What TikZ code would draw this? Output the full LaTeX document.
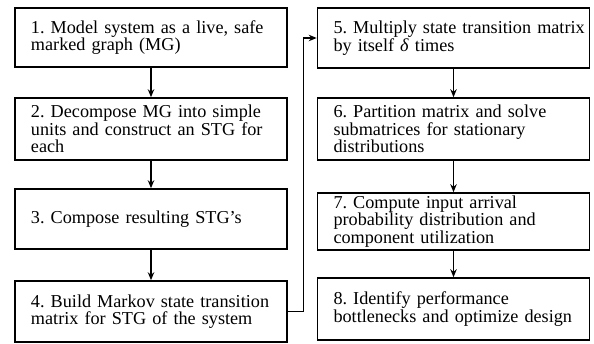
\documentclass[tikz,border=0pt]{standalone}
\usepackage{fontspec}
\setmainfont{Liberation Serif}
\usetikzlibrary{arrows.meta}
\frenchspacing

\begin{document}
\begin{tikzpicture}[
  x=1pt, y=-1pt,
  stage/.style={rectangle, draw, line width=1.6pt, text width=272pt,
                inner xsep=0pt, inner ysep=2pt, align=left,
                font=\fontsize{18.2}{17.5}\selectfont,
                execute at begin node={\leftskip=16pt\hyphenpenalty=10000}},
  arr/.style={-{Stealth[length=8pt, width=6.5pt]}, line width=1.3pt}
]
  \useasboundingbox (0, 0) rectangle (594, 344);

  % Left column
  \node[stage, minimum height=59pt] (model) at (151, 37.5)
    {1. Model system as a live, safe\\marked graph (MG)};
  \node[stage, minimum height=62pt] (decomp) at (151, 129)
    {2. Decompose MG into simple\\units and construct an STG for\\each};
  \node[stage, minimum height=60pt] (compose) at (151, 219)
    {3. Compose resulting STG's};
  \node[stage, minimum height=61pt] (markov) at (151, 311.5)
    {4. Build Markov state transition\\matrix for STG of the system};

  % Right column
  \node[stage, minimum height=60pt] (mult) at (453.5, 38)
    {5. Multiply state transition matrix\\by itself \textit{δ} times};
  \node[stage, minimum height=62pt] (part) at (453.5, 129)
    {6. Partition matrix and solve\\submatrices for stationary\\distributions};
  \node[stage, minimum height=57pt] (arrival) at (453.5, 221.5)
    {7. Compute input arrival\\probability distribution and\\component utilization};
  \node[stage, minimum height=62pt] (bottle) at (453.5, 309)
    {8. Identify performance\\bottlenecks and optimize design};

  % Flow
  \draw[arr] (model) -- (decomp);
  \draw[arr] (decomp) -- (compose);
  \draw[arr] (compose) -- (markov);
  \draw[arr] (markov.east) -- ++(16, 0) |- (mult.west);
  \draw[arr] (mult) -- (part);
  \draw[arr] (part) -- (arrival);
  \draw[arr] (arrival) -- (bottle);
\end{tikzpicture}
\end{document}
